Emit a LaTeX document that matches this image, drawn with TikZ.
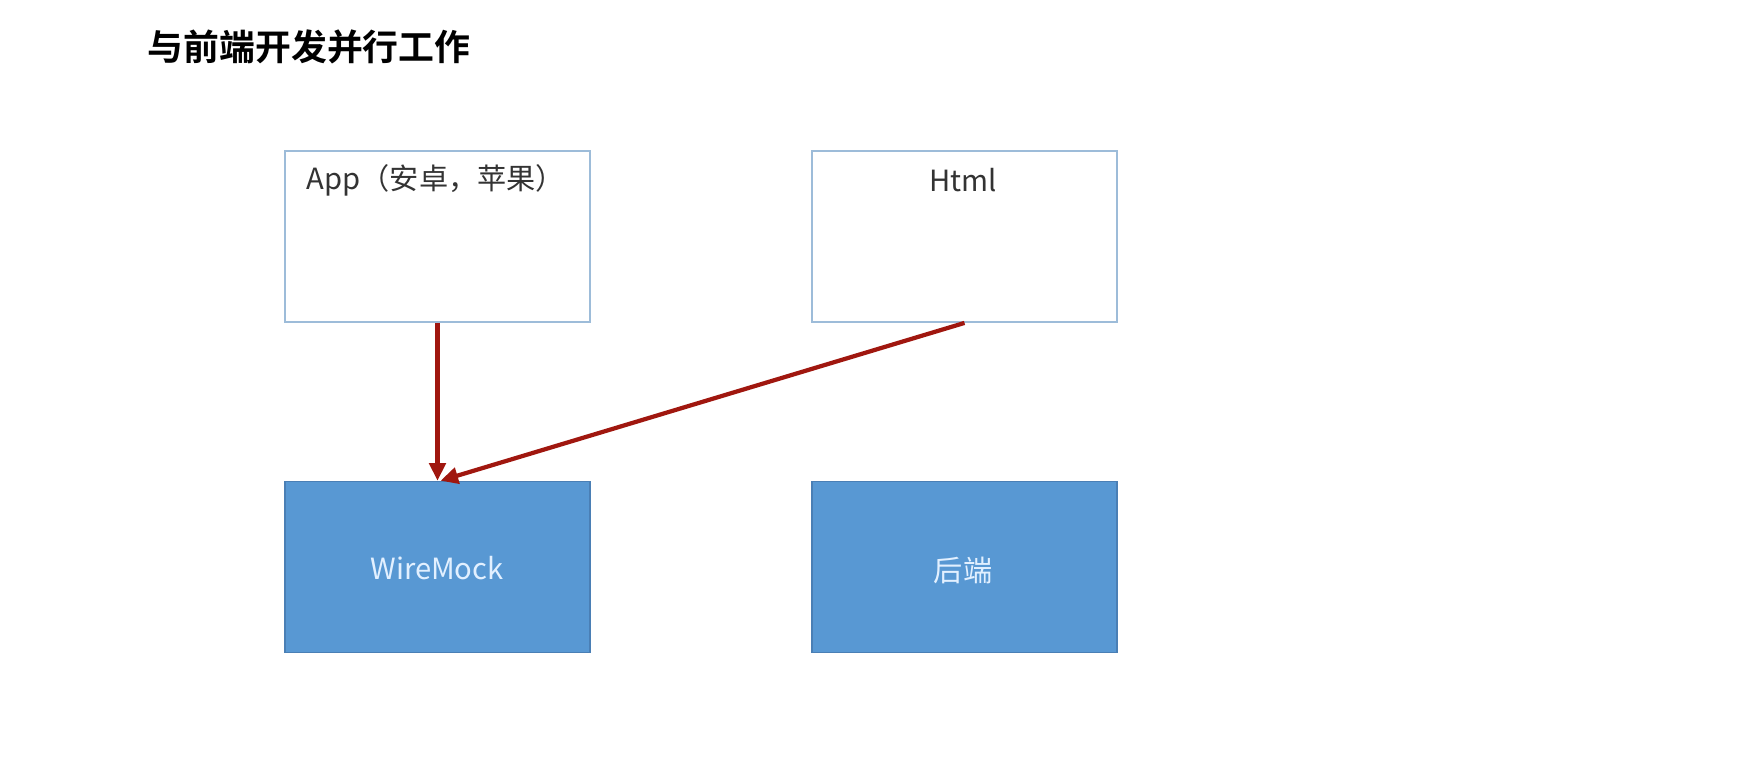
\documentclass[tikz,border=0pt]{standalone}
\usepackage{fontspec}
\setmainfont{Noto Sans CJK SC}
\newfontfamily\titlefont{Noto Sans CJK SC Bold}
\usetikzlibrary{arrows.meta}
\definecolor{boxline}{HTML}{9DBCD9}
\definecolor{boxfill}{HTML}{5898D3}
\definecolor{boxedge}{HTML}{4A7FB5}
\definecolor{arrowred}{HTML}{A0170F}
\definecolor{txt}{HTML}{333333}
\definecolor{wtxt}{HTML}{E2F0FF}
\tikzset{
  px/.style={x=0.01cm,y=-0.01cm},
  whitebox/.style={draw=boxline,line width=0.5pt,fill=white,minimum width=3.05cm,minimum height=1.71cm,inner sep=0pt},
  bluebox/.style={draw=boxedge,line width=0.4pt,fill=boxfill,minimum width=3.05cm,minimum height=1.71cm,inner sep=0pt},
  lbl/.style={text=txt,font=\fontsize{8.3pt}{10pt}\selectfont,inner sep=0pt},
  wlbl/.style={text=wtxt,font=\fontsize{8.3pt}{10pt}\selectfont,inner sep=0pt},
  redarrow/.style={draw=arrowred,line width=1.2pt,-{Triangle[length=5pt,width=4.6pt]}}
}
\begin{document}
\begin{tikzpicture}[px]
\useasboundingbox[fill=white] (0,0) rectangle (1748,771);
\node[anchor=west,font=\titlefont\fontsize{10.2pt}{12pt}\selectfont,inner sep=0pt] (title) at (147,47) {与前端开发并行工作};
\node[whitebox] (app) at (437.5,236.5) {};
\node[whitebox] (html) at (964.5,236.5) {};
\node[bluebox] (wm) at (437.5,567) {};
\node[bluebox] (be) at (964.5,567) {};
\node[lbl,anchor=west] (apptxt) at (306,180) {App（安卓，苹果）};
\node[lbl] (htmltxt) at (963,180) {Html};
\node[wlbl] (wmtxt) at (437,568) {WireMock};
\node[wlbl] (betxt) at (963,570) {后端};
\draw[redarrow] (app.south) -- (wm.north);
\draw[redarrow] (html.south) -- ([xshift=0.03cm]wm.north);
\end{tikzpicture}
\end{document}
